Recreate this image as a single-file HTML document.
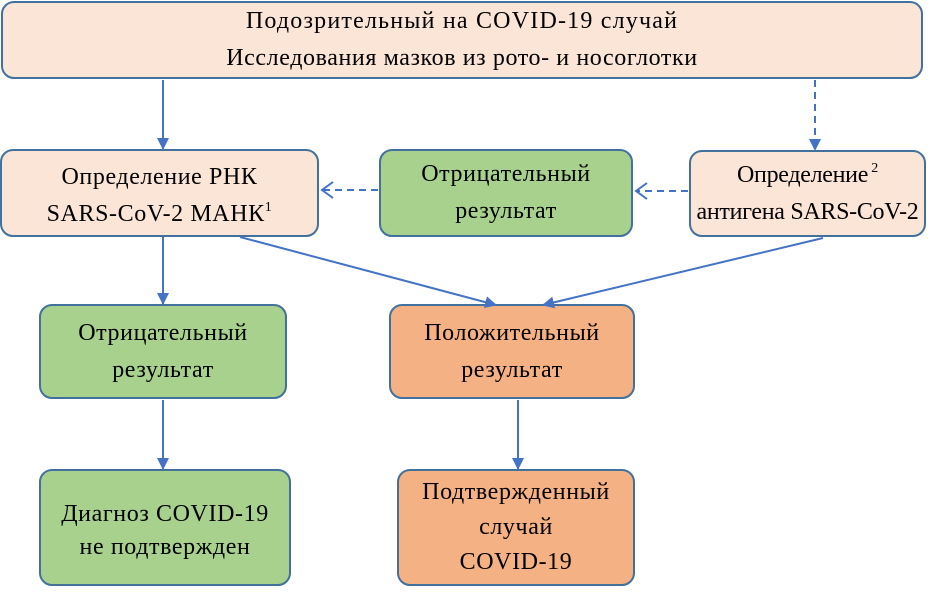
<!DOCTYPE html>
<html><head><meta charset="utf-8"><style>
body{margin:0;width:938px;height:592px;background:#fff;position:relative;overflow:hidden;font-family:"Liberation Serif","Noto Serif CJK SC",serif;font-size:24px;color:#000;letter-spacing:0.6px}
.b{position:absolute;box-sizing:border-box;border:2px solid #41719c;border-radius:13px;display:flex;flex-direction:column;align-items:center;justify-content:center;text-align:center;line-height:37px;white-space:nowrap}
.p{background:#fbe5d6}.g{background:#a9d18e}.o{background:#f4b183}
sup{font-size:14px;vertical-align:10px;line-height:0}
svg{position:absolute;left:0;top:0;z-index:5}
</style></head><body>
<div class="b p" style="left:1px;top:1px;width:922px;height:78px"><div style="letter-spacing:1.2px">Подозрительный на COVID-19 случай</div><div>Исследования мазков из рото- и носоглотки</div></div>
<div class="b p" style="left:0;top:149px;width:319px;height:88px;padding-top:6px"><div>Определение РНК</div><div>SARS-CoV-2 МАНК<sup>1</sup></div></div>
<div class="b g" style="left:379px;top:149px;width:254px;height:88px"><div>Отрицательный</div><div>результат</div></div>
<div class="b p" style="left:689px;top:150px;width:237px;height:87px;letter-spacing:-0.3px"><div>Определение<sup>&nbsp;2</sup></div><div>антигена SARS-CoV-2</div></div>
<div class="b g" style="left:39px;top:304px;width:248px;height:95px"><div>Отрицательный</div><div>результат</div></div>
<div class="b o" style="left:389px;top:304px;width:246px;height:95px"><div>Положительный</div><div>результат</div></div>
<div class="b g" style="left:39px;top:469px;width:252px;height:117px;padding-top:6px"><div>Диагноз COVID-19</div><div style="margin-top:-4px">не подтвержден</div></div>
<div class="b o" style="left:397px;top:469px;width:238px;height:117px;line-height:35px"><div>Подтвержденный</div><div>случай</div><div>COVID-19</div></div>
<svg width="938" height="592">
<defs>
<marker id="a" markerWidth="12" markerHeight="12" refX="11" refY="6" orient="auto" markerUnits="userSpaceOnUse"><path d="M0,0 L12,6 L0,12 Z" fill="#4472c4"/></marker>
</defs>
<g stroke="#4472c4" stroke-width="2" fill="none">
<line x1="163" y1="80" x2="163" y2="149" marker-end="url(#a)"/>
<line x1="815" y1="80" x2="815" y2="150" stroke-dasharray="7,5" marker-end="url(#a)"/>
<line x1="688" y1="191" x2="636" y2="191" stroke-dasharray="7,5"/>
<path d="M647,183 L636,191 L647,199"/>
<line x1="378" y1="190" x2="322" y2="190" stroke-dasharray="7,5"/>
<path d="M333,182 L322,190 L333,198"/>
<line x1="163" y1="237" x2="163" y2="304" marker-end="url(#a)"/>
<line x1="240" y1="237" x2="496" y2="305" marker-end="url(#a)"/>
<line x1="823" y1="238" x2="543" y2="305" marker-end="url(#a)"/>
<line x1="163" y1="400" x2="163" y2="469" marker-end="url(#a)"/>
<line x1="518" y1="400" x2="518" y2="469" marker-end="url(#a)"/>
</g></svg>
</body></html>
